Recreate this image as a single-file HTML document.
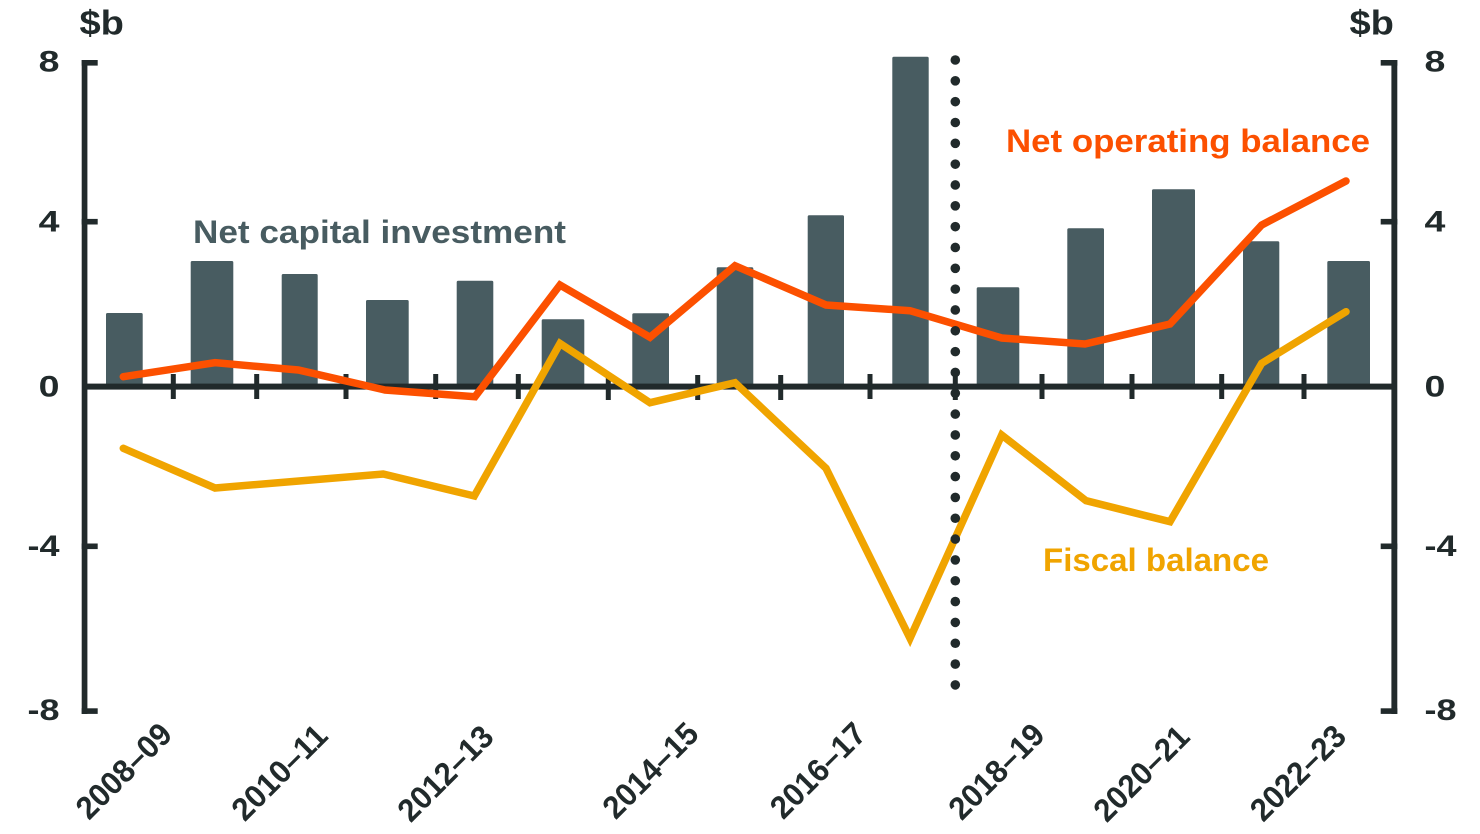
<!DOCTYPE html>
<html>
<head>
<meta charset="utf-8">
<style>
  html, body { margin:0; padding:0; background:#ffffff; }
  body { width:1480px; height:834px; overflow:hidden; }
  svg { display:block; }
  text { font-family: "Liberation Sans", "DejaVu Sans", sans-serif; font-weight:bold; }
</style>
</head>
<body>
<svg width="1480" height="834" viewBox="0 0 1480 834" xmlns="http://www.w3.org/2000/svg">
  <rect x="0" y="0" width="1480" height="834" fill="#ffffff"/>

  <!-- Bars: Net capital investment -->
  <g fill="#485c61">
    <rect x="106" y="313" width="36.7" height="74" rx="1.5"/>
    <rect x="190.7" y="261" width="42.6" height="126" rx="1.5"/>
    <rect x="281.7" y="274" width="36" height="113" rx="1.5"/>
    <rect x="366" y="300" width="42.7" height="87" rx="1.5"/>
    <rect x="456.7" y="280.7" width="36.6" height="106.3" rx="1.5"/>
    <rect x="541.7" y="319.3" width="42.6" height="67.7" rx="1.5"/>
    <rect x="632.3" y="313.3" width="36.7" height="73.7" rx="1.5"/>
    <rect x="716.7" y="267.3" width="36.6" height="119.7" rx="1.5"/>
    <rect x="807.7" y="215.3" width="36.3" height="171.7" rx="1.5"/>
    <rect x="892.3" y="56.7" width="36.4" height="330.3" rx="1.5"/>
    <rect x="976.7" y="287.3" width="42.6" height="99.7" rx="1.5"/>
    <rect x="1067.3" y="228.3" width="36.7" height="158.7" rx="1.5"/>
    <rect x="1152" y="189.3" width="43" height="197.7" rx="1.5"/>
    <rect x="1243" y="241.3" width="36.3" height="145.7" rx="1.5"/>
    <rect x="1327.3" y="261" width="42.7" height="126" rx="1.5"/>
  </g>

  <!-- Axes -->
  <g fill="#212a2b">
    <rect x="81.7" y="60" width="5.7" height="654"/>
    <rect x="81.7" y="60" width="16" height="5.6"/>
    <rect x="81.7" y="218.9" width="16" height="5.6"/>
    <rect x="81.7" y="543.5" width="16" height="5.6"/>
    <rect x="81.7" y="708.3" width="16" height="5.6"/>
    <rect x="1391.4" y="60" width="5.9" height="654"/>
    <rect x="1380.7" y="60" width="16.6" height="5.6"/>
    <rect x="1380.7" y="218.9" width="16.6" height="5.6"/>
    <rect x="1380.7" y="543.5" width="16.6" height="5.6"/>
    <rect x="1380.7" y="708.3" width="16.6" height="5.6"/>
    <rect x="84" y="383.6" width="1311" height="6"/>
    <rect x="170.8" y="374" width="5" height="25"/>
    <rect x="254.2" y="374" width="5" height="25"/>
    <rect x="343.5" y="374" width="5" height="25"/>
    <rect x="433.2" y="374" width="5" height="25"/>
    <rect x="515.8" y="374" width="5" height="25"/>
    <rect x="605.8" y="375" width="5" height="25"/>
    <rect x="695.2" y="375" width="5" height="25"/>
    <rect x="778.2" y="375" width="5" height="25"/>
    <rect x="867.5" y="374" width="5" height="25"/>
    <rect x="952.8" y="375" width="5" height="25"/>
    <rect x="1039.5" y="374" width="5" height="25"/>
    <rect x="1129.5" y="374" width="5" height="25"/>
    <rect x="1219.2" y="374" width="5" height="25"/>
    <rect x="1301.5" y="374" width="5" height="25"/>
  </g>

  <!-- Net operating balance -->
  <polyline fill="none" stroke="#fc5000" stroke-width="7.5" stroke-linecap="round" stroke-linejoin="miter" stroke-miterlimit="4"
    points="123.3,376.7 215,362.7 298.3,370 385,390 475,396.7 560,285 650,337.3 735,265.7 826,305 910,310.7 1001.7,338 1085,344 1170,324 1261.7,225 1346,181"/>

  <!-- Fiscal balance -->
  <polyline fill="none" stroke="#f0a400" stroke-width="7.5" stroke-linecap="round" stroke-linejoin="miter" stroke-miterlimit="4"
    points="123.3,448.3 215,488 299,481 383.3,474 474.3,496 560,343.5 650,402.7 735,382.7 826,468.3 910,638.3 1001.7,435 1086,500.7 1170,521.7 1261.7,363.3 1346,311.7"/>

  <!-- Dotted vertical line -->
  <g fill="#212a2b">
    <circle cx="955.3" cy="60" r="4.8"/>
    <circle cx="955.3" cy="80.83" r="4.8"/>
    <circle cx="955.3" cy="101.66" r="4.8"/>
    <circle cx="955.3" cy="122.49" r="4.8"/>
    <circle cx="955.3" cy="143.32" r="4.8"/>
    <circle cx="955.3" cy="164.15" r="4.8"/>
    <circle cx="955.3" cy="184.98" r="4.8"/>
    <circle cx="955.3" cy="205.81" r="4.8"/>
    <circle cx="955.3" cy="226.64" r="4.8"/>
    <circle cx="955.3" cy="247.47" r="4.8"/>
    <circle cx="955.3" cy="268.3" r="4.8"/>
    <circle cx="955.3" cy="289.13" r="4.8"/>
    <circle cx="955.3" cy="309.96" r="4.8"/>
    <circle cx="955.3" cy="330.79" r="4.8"/>
    <circle cx="955.3" cy="351.62" r="4.8"/>
    <circle cx="955.3" cy="372.45" r="4.8"/>
    <circle cx="955.3" cy="393.28" r="4.8"/>
    <circle cx="955.3" cy="414.11" r="4.8"/>
    <circle cx="955.3" cy="434.94" r="4.8"/>
    <circle cx="955.3" cy="455.77" r="4.8"/>
    <circle cx="955.3" cy="476.6" r="4.8"/>
    <circle cx="955.3" cy="497.43" r="4.8"/>
    <circle cx="955.3" cy="518.26" r="4.8"/>
    <circle cx="955.3" cy="539.09" r="4.8"/>
    <circle cx="955.3" cy="559.92" r="4.8"/>
    <circle cx="955.3" cy="580.75" r="4.8"/>
    <circle cx="955.3" cy="601.58" r="4.8"/>
    <circle cx="955.3" cy="622.41" r="4.8"/>
    <circle cx="955.3" cy="643.24" r="4.8"/>
    <circle cx="955.3" cy="664.07" r="4.8"/>
    <circle cx="955.3" cy="684.9" r="4.8"/>
  </g>

  <!-- Unit labels -->
  <g fill="#212a2b" font-size="34">
    <text transform="translate(79.5,34.3) scale(1.12,1)">$b</text>
    <text transform="translate(1349.5,34.3) scale(1.12,1)">$b</text>
  </g>

  <!-- Left y tick labels -->
  <g fill="#212a2b" font-size="30" text-anchor="end">
    <text transform="translate(59.5,71.7) scale(1.25,1)">8</text>
    <text transform="translate(59.5,231.7) scale(1.25,1)">4</text>
    <text transform="translate(59.5,396.7) scale(1.25,1)">0</text>
    <text transform="translate(59.5,556) scale(1.2,1)">-4</text>
    <text transform="translate(59.5,720) scale(1.2,1)">-8</text>
  </g>

  <!-- Right y tick labels -->
  <g fill="#212a2b" font-size="30" text-anchor="start">
    <text transform="translate(1424.5,71.7) scale(1.25,1)">8</text>
    <text transform="translate(1424.5,231.7) scale(1.25,1)">4</text>
    <text transform="translate(1424.5,396.7) scale(1.25,1)">0</text>
    <text transform="translate(1424.5,556) scale(1.2,1)">-4</text>
    <text transform="translate(1424.5,720) scale(1.2,1)">-8</text>
  </g>

  <!-- X category labels (rotated) -->
  <g fill="#212a2b" font-size="32" text-anchor="middle">
    <text transform="translate(123.3,770.5) rotate(-45)" x="0" y="11.5" textLength="120" lengthAdjust="spacingAndGlyphs">2008–09</text>
    <text transform="translate(279,772) rotate(-45)" x="0" y="11.5" textLength="120" lengthAdjust="spacingAndGlyphs">2010–11</text>
    <text transform="translate(445,773) rotate(-45)" x="0" y="11.5" textLength="120" lengthAdjust="spacingAndGlyphs">2012–13</text>
    <text transform="translate(650,770) rotate(-45)" x="0" y="11.5" textLength="120" lengthAdjust="spacingAndGlyphs">2014–15</text>
    <text transform="translate(817.5,770) rotate(-45)" x="0" y="11.5" textLength="120" lengthAdjust="spacingAndGlyphs">2016–17</text>
    <text transform="translate(996,771) rotate(-45)" x="0" y="11.5" textLength="120" lengthAdjust="spacingAndGlyphs">2018–19</text>
    <text transform="translate(1141,773) rotate(-45)" x="0" y="11.5" textLength="120" lengthAdjust="spacingAndGlyphs">2020–21</text>
    <text transform="translate(1297.5,772.5) rotate(-45)" x="0" y="11.5" textLength="120" lengthAdjust="spacingAndGlyphs">2022–23</text>
  </g>

  <!-- Series labels -->
  <text x="193" y="243" font-size="32" fill="#485c61" textLength="373" lengthAdjust="spacingAndGlyphs">Net capital investment</text>
  <text x="1006" y="152" font-size="32" fill="#fc5000" textLength="364" lengthAdjust="spacingAndGlyphs">Net operating balance</text>
  <text x="1043" y="571" font-size="32" fill="#f0a400" textLength="226" lengthAdjust="spacingAndGlyphs">Fiscal balance</text>
</svg>
</body>
</html>
